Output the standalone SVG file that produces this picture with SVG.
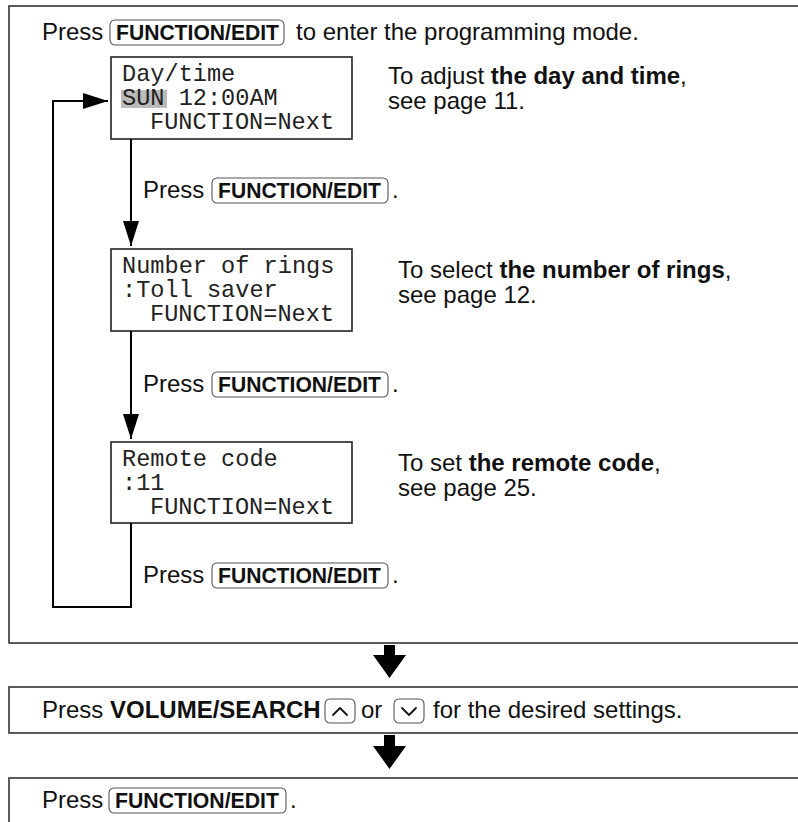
<svg xmlns="http://www.w3.org/2000/svg" width="798" height="822" viewBox="0 0 798 822">
<style>
.t{font-family:"Liberation Sans",Arial,sans-serif;font-size:24px;fill:#111}
.b{font-weight:bold}
.k{font-family:"Liberation Sans",Arial,sans-serif;font-size:22px;font-weight:bold;fill:#111}
.m{font-family:"Liberation Mono","Courier New",monospace;font-size:23.6px;fill:#222}
.frame{fill:none;stroke:#333;stroke-width:1.6}
.lcd{fill:#fff;stroke:#222;stroke-width:1.6}
.key{fill:#fff;stroke:#555;stroke-width:1.1}
.conn{fill:none;stroke:#000;stroke-width:2}
.chev{fill:none;stroke:#111;stroke-width:1.8;stroke-linecap:round;stroke-linejoin:round}
.big{fill:#000}
</style>
<defs>
<marker id="ah" markerUnits="userSpaceOnUse" markerWidth="26" markerHeight="16" refX="25" refY="8" orient="auto">
<path d="M0,0 L25,8 L0,16 z" fill="#000"/>
</marker>
</defs>
<rect width="798" height="822" fill="#fff"/>

<g id="frame-main">
<rect class="frame" x="9" y="6" width="800" height="637"/>
</g>

<g id="step-title">
<text class="t" x="42" y="40">Press</text>
<rect class="key" x="110" y="20" width="174" height="25" rx="5"/>
<text class="k" x="116" y="40" textLength="163" lengthAdjust="spacingAndGlyphs">FUNCTION/EDIT</text>
<text class="t" x="296" y="40">to enter the programming mode.</text>
</g>

<g id="lcd-daytime">
<rect class="lcd" x="111" y="57" width="241" height="82"/>
<rect x="121" y="90" width="46" height="18" fill="#bbb"/>
<text class="m" x="122" y="81">Day/time</text>
<text class="m" x="122" y="105">SUN 12:00AM</text>
<text class="m" x="150" y="129">FUNCTION=Next</text>
</g>
<g id="note-daytime">
<text class="t" x="388" y="84">To adjust <tspan class="b">the day and time</tspan>,</text>
<text class="t" x="388" y="109">see page 11.</text>
</g>

<g id="press-1">
<text class="t" x="143" y="198">Press</text>
<rect class="key" x="212" y="178" width="176" height="25" rx="5"/>
<text class="k" x="218" y="198" textLength="163" lengthAdjust="spacingAndGlyphs">FUNCTION/EDIT</text>
<text class="t" x="392" y="198">.</text>
</g>

<g id="lcd-rings">
<rect class="lcd" x="111" y="249" width="241" height="82"/>
<text class="m" x="122" y="273">Number of rings</text>
<text class="m" x="122" y="297">:Toll saver</text>
<text class="m" x="150" y="321">FUNCTION=Next</text>
</g>
<g id="note-rings">
<text class="t" x="398" y="278">To select <tspan class="b">the number of rings</tspan>,</text>
<text class="t" x="398" y="303">see page 12.</text>
</g>

<g id="press-2">
<text class="t" x="143" y="392">Press</text>
<rect class="key" x="212" y="372" width="176" height="25" rx="5"/>
<text class="k" x="218" y="392" textLength="163" lengthAdjust="spacingAndGlyphs">FUNCTION/EDIT</text>
<text class="t" x="392" y="392">.</text>
</g>

<g id="lcd-remote">
<rect class="lcd" x="111" y="442" width="241" height="81"/>
<text class="m" x="122" y="466">Remote code</text>
<text class="m" x="122" y="490">:11</text>
<text class="m" x="150" y="514">FUNCTION=Next</text>
</g>
<g id="note-remote">
<text class="t" x="398" y="471">To set <tspan class="b">the remote code</tspan>,</text>
<text class="t" x="398" y="496">see page 25.</text>
</g>

<g id="press-3">
<text class="t" x="143" y="583">Press</text>
<rect class="key" x="212" y="563" width="176" height="25" rx="5"/>
<text class="k" x="218" y="583" textLength="163" lengthAdjust="spacingAndGlyphs">FUNCTION/EDIT</text>
<text class="t" x="392" y="583">.</text>
</g>

<g id="connectors">
<line class="conn" x1="131" y1="139" x2="131" y2="246" marker-end="url(#ah)"/>
<line class="conn" x1="131" y1="331" x2="131" y2="439" marker-end="url(#ah)"/>
<path class="conn" d="M131,523 V607 H53 V101 H108" marker-end="url(#ah)"/>
<polygon class="big" points="384,645 395,645 395,655 406,655 389.5,678 373,655 384,655"/>
<polygon class="big" points="384,735 395,735 395,746 406,746 389.5,769 373,746 384,746"/>
</g>

<g id="step-volume">
<rect class="frame" x="9" y="687" width="800" height="46"/>
<text class="t" x="42" y="718">Press <tspan class="b">VOLUME/SEARCH</tspan></text>
<rect class="key" x="325" y="699" width="30" height="24" rx="5"/>
<path class="chev" d="M333,715 L340,708 L347,715"/>
<text class="t" x="361" y="718">or</text>
<rect class="key" x="394" y="699" width="30" height="24" rx="5"/>
<path class="chev" d="M402,708 L409,715 L416,708"/>
<text class="t" x="433" y="718">for the desired settings.</text>
</g>

<g id="step-final">
<rect class="frame" x="9" y="778" width="800" height="60"/>
<text class="t" x="42" y="808">Press</text>
<rect class="key" x="109" y="788" width="177" height="25" rx="5"/>
<text class="k" x="115" y="808" textLength="164" lengthAdjust="spacingAndGlyphs">FUNCTION/EDIT</text>
<text class="t" x="290" y="808">.</text>
</g>
</svg>
